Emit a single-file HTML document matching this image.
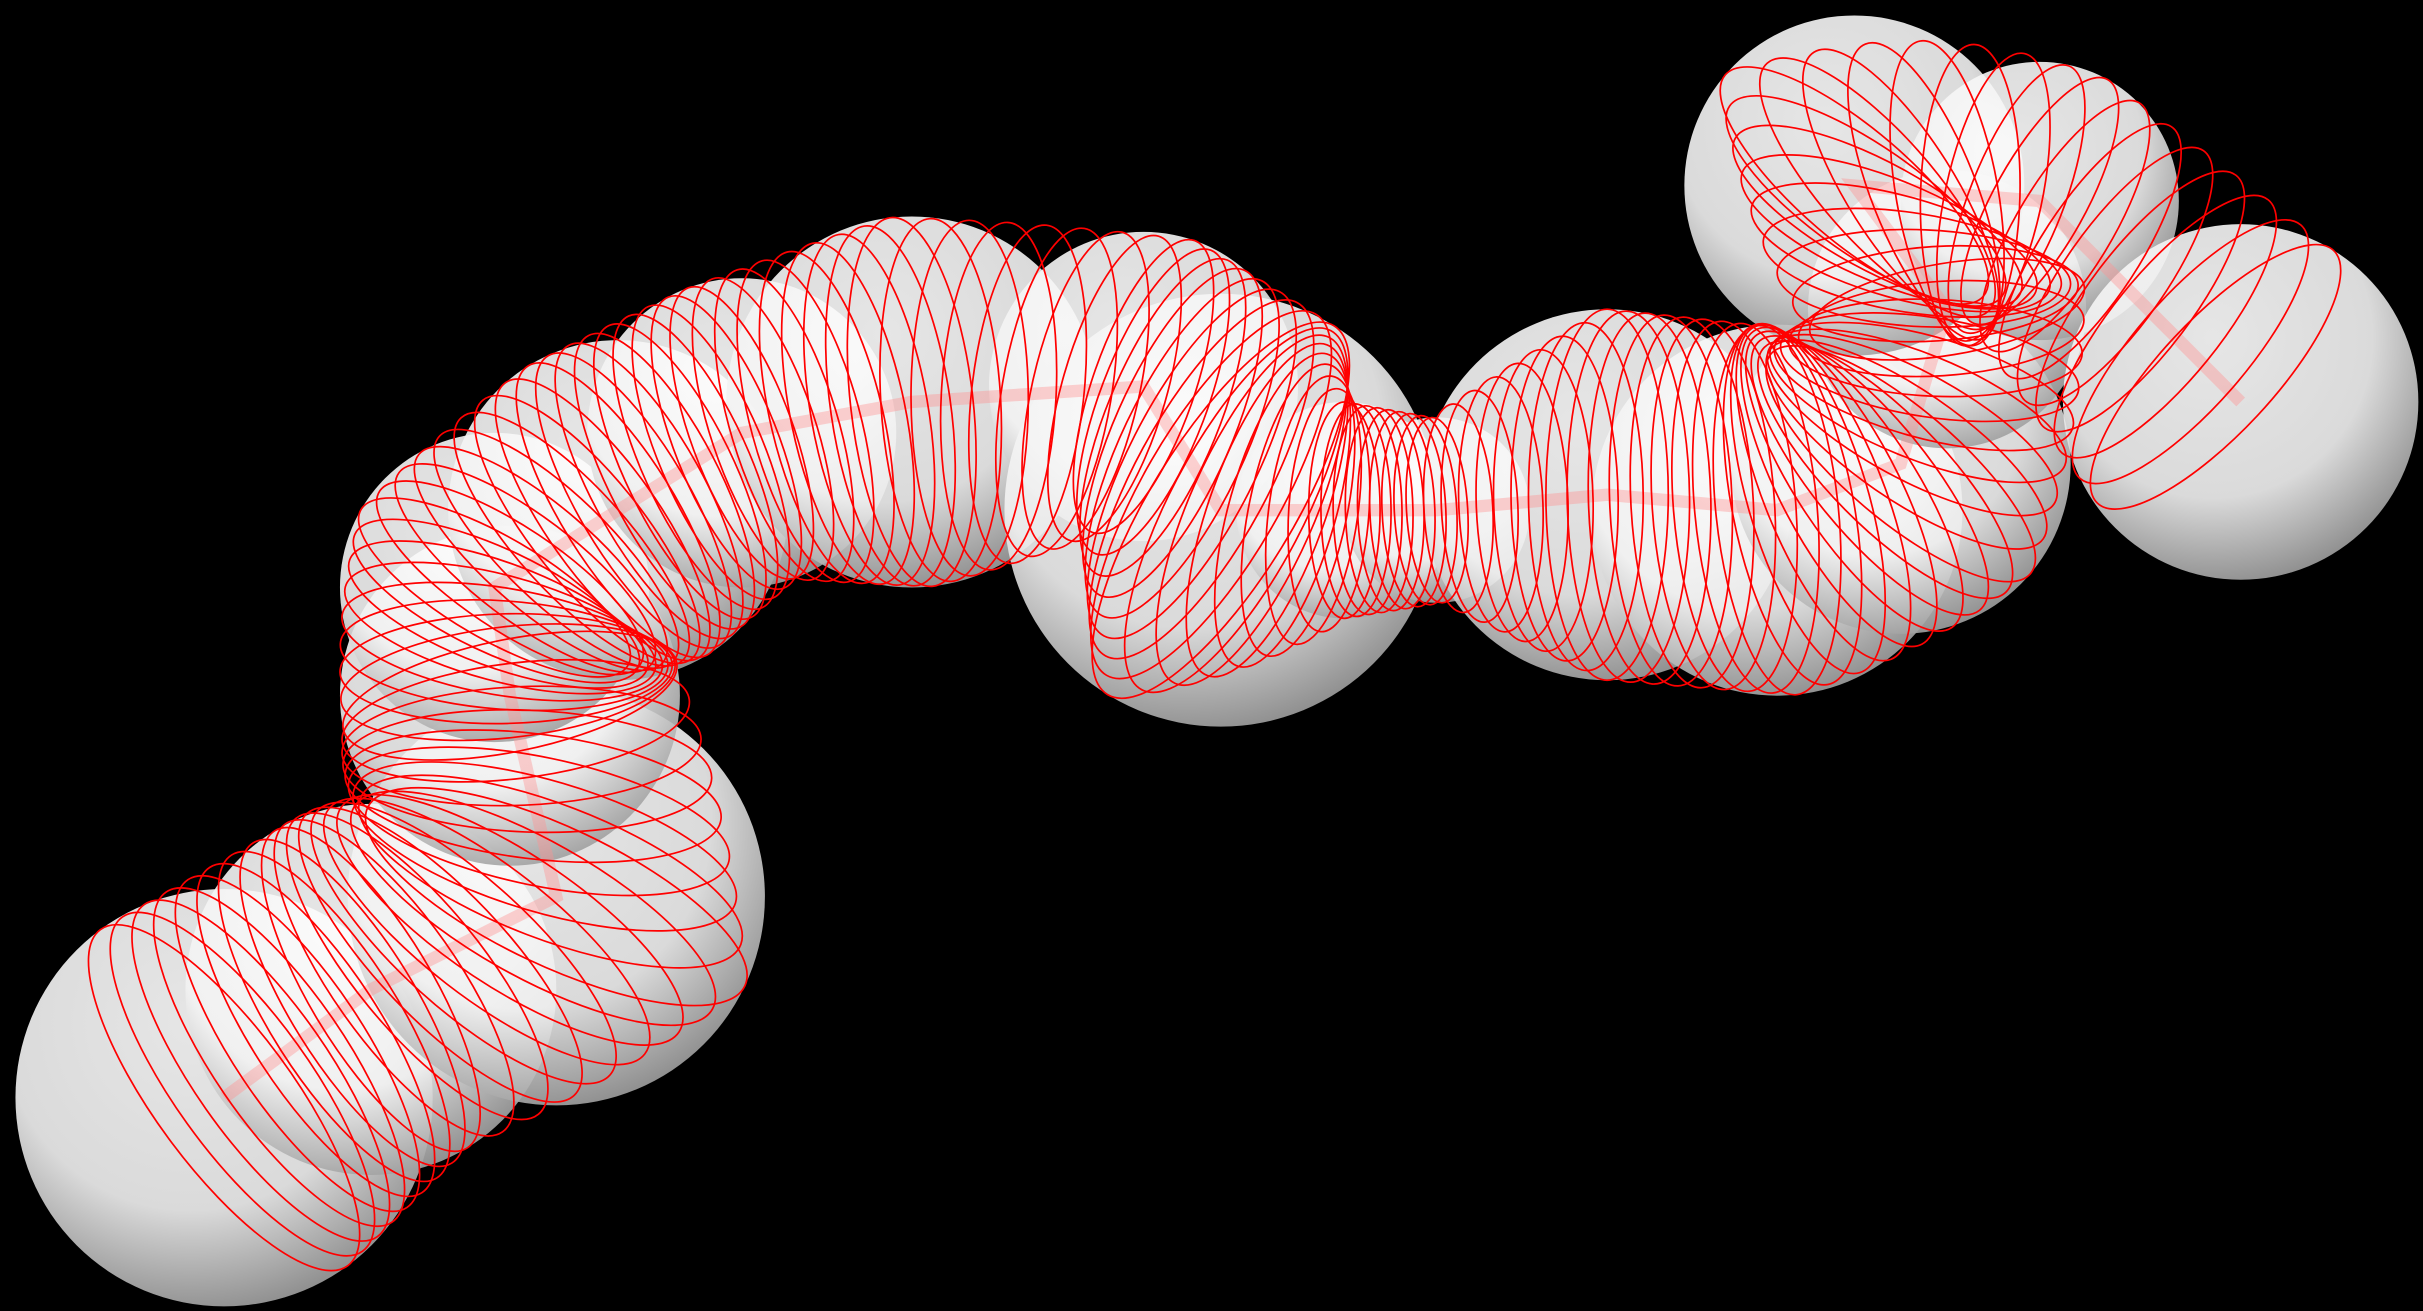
<!DOCTYPE html>
<html><head><meta charset="utf-8"><style>
html,body{margin:0;padding:0;background:#000;overflow:hidden}
svg{display:block}
</style></head><body>
<svg id="chart" width="2423" height="1311" viewBox="0 0 1568 848" preserveAspectRatio="none" xmlns="http://www.w3.org/2000/svg">
<defs>
<radialGradient id="sph" cx="0.42" cy="0.32" r="0.75">
<stop offset="0" stop-color="#ffffff"/>
<stop offset="0.6" stop-color="#f2f2f2"/>
<stop offset="1" stop-color="#8e8e8e"/>
</radialGradient>
</defs>
<rect x="0" y="0" width="1568" height="848" fill="#000"/>
<g id="spheres"></g>
<g id="rings"></g>
</svg>
<script>
const centerX = [145,240,360,330,320,400,480,590,740,790,870,930,1040,1150,1230,1260,1200,1320,1450];
const centerY = [710,640,580,450,380,330,280,260,250,330,330,330,320,330,300,200,120,130,260];
const radius  = [135,120,135,110,100,110,100,120,100,140,70,60,120,120,110,90,110,90,115];
const ns="http://www.w3.org/2000/svg";
const sg=document.getElementById('spheres');
const rg=document.getElementById('rings');
const n=centerX.length;
for(let i=0;i<n;i++){
  const c=document.createElementNS(ns,'circle');
  
  
  c.setAttribute('cx',centerX[i]);c.setAttribute('cy',centerY[i]);c.setAttribute('r',radius[i]);
  c.setAttribute('fill','url(#sph)');c.setAttribute('fill-opacity','0.9');
  sg.appendChild(c);
}
const core=document.createElementNS(ns,'polyline');


core.setAttribute('points',centerX.map((x,i)=>x+','+centerY[i]).join(' '));
core.setAttribute('fill','none');core.setAttribute('stroke','#ff9090');core.setAttribute('stroke-width','8');core.setAttribute('stroke-opacity','0.4');
sg.appendChild(core);
// smoothed tangent per keypoint
const tx=[],ty=[];
for(let i=0;i<n;i++){
  const a=Math.max(0,i-1),b=Math.min(n-1,i+1);
  let dx=centerX[b]-centerX[a],dy=centerY[b]-centerY[a];
  const L=Math.hypot(dx,dy)||1;tx.push(dx/L);ty.push(dy/L);
}
const steps=8;
for(let i=0;i<n-1;i++){
  for(let s=0;s<steps;s++){
    const t=s/steps;
    const x=centerX[i]+(centerX[i+1]-centerX[i])*t;
    const y=centerY[i]+(centerY[i+1]-centerY[i])*t;
    const r=radius[i]+(radius[i+1]-radius[i])*t;
    const dx=tx[i]*(1-t)+tx[i+1]*t, dy=ty[i]*(1-t)+ty[i+1]*t;
    const ang=Math.atan2(dy,dx)*180/Math.PI;
    const e=document.createElementNS(ns,'ellipse');
    
    
    e.setAttribute('cx',x);e.setAttribute('cy',y);
    e.setAttribute('rx',r*0.33);e.setAttribute('ry',r);
    e.setAttribute('transform','rotate('+ang+' '+x+' '+y+')');
    e.setAttribute('fill','none');e.setAttribute('stroke','#ff0000');e.setAttribute('stroke-width','1.1');
    rg.appendChild(e);
  }
}
</script>
</body></html>
